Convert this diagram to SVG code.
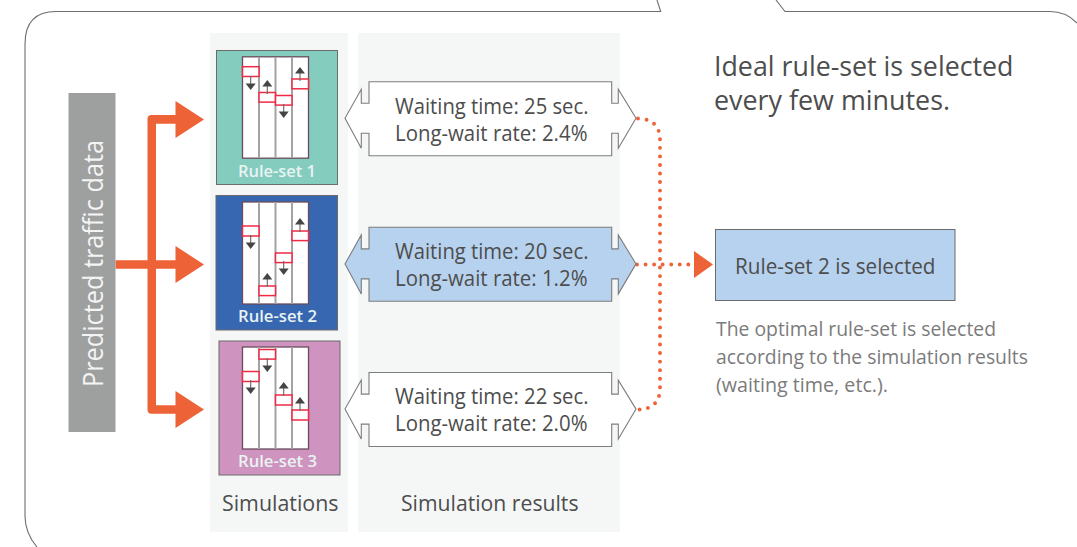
<svg xmlns="http://www.w3.org/2000/svg" width="1077" height="547" viewBox="0 0 1077 547">
<style>
text{font-family:"Open Sans","Noto Sans","Liberation Sans",sans-serif;fill:#4d4d4d}
.r{font-size:21.5px}
.lab{font-size:16px;font-weight:600;fill:#e9f3f3}
.note{font-size:20px;fill:#7b7b7b}
.big{font-size:28px}
.lane{fill:#fff;stroke:#6b4a5c;stroke-width:1.3}
.div{stroke:#a3a3a3;stroke-width:2;fill:none}
.red{fill:#fff;stroke:#ee2a45;stroke-width:1.5}
.st{stroke:#666;stroke-width:1.1;fill:none}
.hd{fill:#454545}
.cap{stroke:#7d7d7d;stroke-width:1.1;fill:#fff}
.dot{fill:none;stroke:#ee6237;stroke-width:3.9;stroke-linecap:round;stroke-dasharray:0 8.55}
.or{fill:#ee6237}
.box{stroke:#6b6b6b;stroke-width:1}
</style>
<defs>
<path id="capsule" d="M345 118.300L361.300 89.300V103.300H369V81.700H611.700V103.300H618.300V89.300L636 118.300L618.300 148.300V133.300H611.700V155.700H369V133.300H361.300V148.300Z"/>
<g id="up"><path class="st" d="M0 5V14"/><path class="hd" d="M-5 6.500L0 0L5 6.500Z"/></g>
<g id="down"><path class="st" d="M0 -14V-5"/><path class="hd" d="M-5 -6.500L0 0L5 -6.500Z"/></g>
</defs>
<rect width="1077" height="547" fill="#fff"/>
<path id="frame" d="M657 0L660.700 11.500H56Q25 11.500 25 44V516Q25 533 37 547M776 0L785 11.500H1050Q1066 11.500 1077 23" fill="none" stroke="#6e6e6e" stroke-width="1.1"/>
<rect x="210" y="33" width="138" height="499" fill="#f5f7f7"/>
<rect x="358" y="33" width="262" height="499" fill="#f5f7f7"/>

<g id="connectors">
<path class="or" d="M115.500 260.200H147.500V119Q147.500 115 151.500 115H175.500V101L204 119.500L175.500 138V123.800H156V260.200H175.500V246L204 264.500L175.500 283V268.800H156V405.200H175.500V391L204 409.500L175.500 428V413.800H151.500Q147.500 413.800 147.500 409.800V268.800H115.500Z"/>
<path class="dot" d="M638 118.500Q660 119 660 140V388Q660 409 638 409.500"/>
<path class="dot" d="M637 264.500H692"/>
<path class="or" d="M694 251L713 264.500L694 278Z"/>
</g>

<g id="traffic-data">
<rect x="68.500" y="93" width="47" height="339" fill="#9e9f9f"/>
<text transform="translate(103 387) rotate(-90)" font-size="28" style="fill:#f4f4f4" textLength="247" lengthAdjust="spacingAndGlyphs">Predicted traffic data</text>
</g>

<g id="rule-set-1">
<rect class="box" x="216.500" y="50.500" width="121" height="134" fill="#84ccbe"/>
<rect class="lane" x="242.500" y="56.800" width="66" height="101.400"/>
<path class="div" d="M259 57V158M275.500 57V158M292 57V158"/>
<rect class="red" x="242.500" y="66.700" width="16.500" height="9.800"/><rect class="red" x="259" y="92.500" width="16.500" height="9.600"/><rect class="red" x="275.500" y="95.500" width="16.500" height="9.600"/><rect class="red" x="292" y="79" width="16.500" height="9.800"/>
<use href="#down" x="250.700" y="90"/><use href="#up" x="267.300" y="80"/><use href="#down" x="283.700" y="118"/><use href="#up" x="300" y="67"/>
<text class="lab" x="238" y="177" textLength="78" lengthAdjust="spacingAndGlyphs">Rule-set 1</text>
</g>

<g id="rule-set-2">
<rect class="box" x="216" y="195.500" width="121.500" height="134.500" fill="#3767b0"/>
<rect class="lane" x="242.500" y="202" width="66" height="102"/>
<path class="div" d="M259 202V304M275.500 202V304M292 202V304"/>
<rect class="red" x="242.500" y="226" width="16.500" height="10"/><rect class="red" x="259" y="286" width="16.500" height="9.600"/><rect class="red" x="275.500" y="253" width="16.500" height="9.600"/><rect class="red" x="292" y="231" width="16.500" height="9.600"/>
<use href="#down" x="250.700" y="249"/><use href="#up" x="267.300" y="273"/><use href="#down" x="283.700" y="275"/><use href="#up" x="300" y="218"/>
<text class="lab" x="238" y="322" textLength="79" lengthAdjust="spacingAndGlyphs">Rule-set 2</text>
</g>

<g id="rule-set-3">
<rect class="box" x="219" y="341" width="121" height="134" fill="#cf93bf"/>
<rect class="lane" x="242.500" y="347" width="66" height="102"/>
<path class="div" d="M259 347V449M275.500 347V449M292 347V449"/>
<rect class="red" x="242.500" y="371.500" width="16.500" height="10"/><rect class="red" x="259" y="349.500" width="16.500" height="9.600"/><rect class="red" x="275.500" y="395" width="16.500" height="10"/><rect class="red" x="292" y="410" width="16.500" height="10"/>
<use href="#down" x="250.700" y="394"/><use href="#down" x="267.300" y="372"/><use href="#up" x="283.700" y="382"/><use href="#up" x="300" y="397"/>
<text class="lab" x="238" y="467" textLength="79" lengthAdjust="spacingAndGlyphs">Rule-set 3</text>
</g>

<g id="result-1">
<use href="#capsule" class="cap"/>
<text class="r" x="395" y="114" textLength="193.500" lengthAdjust="spacingAndGlyphs">Waiting time: 25 sec.</text>
<text class="r" x="395" y="141" textLength="192.500" lengthAdjust="spacingAndGlyphs">Long-wait rate: 2.4%</text>
</g>
<g id="result-2">
<use href="#capsule" y="145.600" class="cap" style="fill:#b7d2ee"/>
<text class="r" x="395" y="259" textLength="193.500" lengthAdjust="spacingAndGlyphs">Waiting time: 20 sec.</text>
<text class="r" x="395" y="286" textLength="192.500" lengthAdjust="spacingAndGlyphs">Long-wait rate: 1.2%</text>
</g>
<g id="result-3">
<use href="#capsule" y="290.800" class="cap"/>
<text class="r" x="395" y="404" textLength="193.500" lengthAdjust="spacingAndGlyphs">Waiting time: 22 sec.</text>
<text class="r" x="395" y="430.500" textLength="192.500" lengthAdjust="spacingAndGlyphs">Long-wait rate: 2.0%</text>
</g>

<g id="selected">
<rect class="box" x="715.500" y="229.500" width="239.500" height="71" fill="#b7d2ee"/>
<text class="r" x="735" y="273.500" textLength="200.500" lengthAdjust="spacingAndGlyphs">Rule-set 2 is selected</text>
</g>

<text class="r" x="222" y="511" textLength="116.500" lengthAdjust="spacingAndGlyphs">Simulations</text>
<text class="r" x="401" y="511" textLength="177.500" lengthAdjust="spacingAndGlyphs">Simulation results</text>
<text class="big" x="714" y="76" textLength="299.500" lengthAdjust="spacingAndGlyphs">Ideal rule-set is selected</text>
<text class="big" x="714" y="110" textLength="236" lengthAdjust="spacingAndGlyphs">every few minutes.</text>
<text class="note" x="716" y="336" textLength="280" lengthAdjust="spacingAndGlyphs">The optimal rule-set is selected</text>
<text class="note" x="716" y="364" textLength="312" lengthAdjust="spacingAndGlyphs">according to the simulation results</text>
<text class="note" x="716" y="392" textLength="172" lengthAdjust="spacingAndGlyphs">(waiting time, etc.).</text>
</svg>
